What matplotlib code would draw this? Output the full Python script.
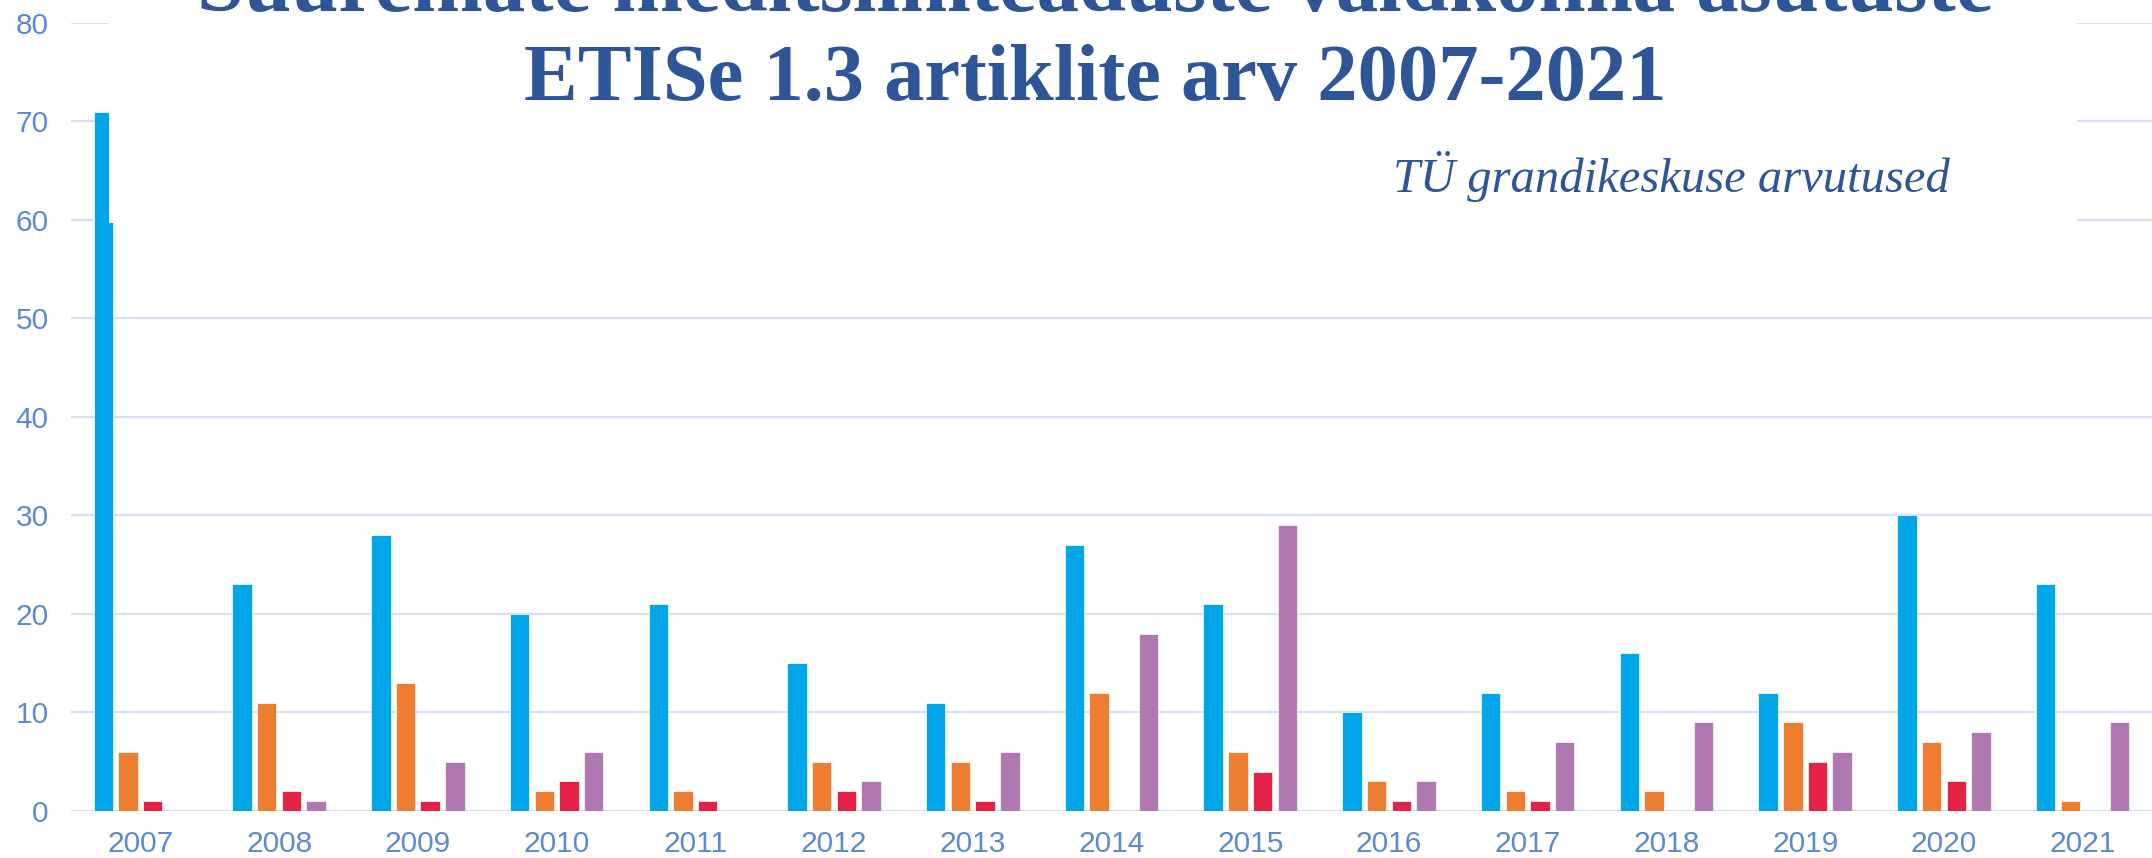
import matplotlib
matplotlib.use("Agg")
import matplotlib.pyplot as plt
from matplotlib.patches import Rectangle
import numpy as np

# data
years = ["2007", "2008", "2009", "2010", "2011", "2012", "2013", "2014",
         "2015", "2016", "2017", "2018", "2019", "2020", "2021"]
series_blue = [71, 23, 28, 20, 21, 15, 11, 27, 21, 10, 12, 16, 12, 30, 23]
series_orange = [6, 11, 13, 2, 2, 5, 5, 12, 6, 3, 2, 2, 9, 7, 1]
series_red = [1, 2, 1, 3, 1, 2, 1, 0, 4, 1, 1, 0, 5, 3, 0]
series_purple = [0, 1, 5, 6, 0, 3, 6, 18, 29, 3, 7, 9, 6, 8, 9]
y_ticks = [0, 10, 20, 30, 40, 50, 60, 70, 80]

title_line1 = "Suuremate meditsiiniteaduste valdkonna asutuste"
title_line2 = "ETISe 1.3 artiklite arv 2007-2021"
subtitle = "TÜ grandikeskuse arvutused"

colors = ["#00A6E8", "#ED7D31", "#E42245", "#AF78B0"]
title_color = "#2E5597"
tick_color = "#5C89CF"
grid_color = "#D6E0F2"

fig = plt.figure(figsize=(21.52, 8.58), dpi=100)
ax = fig.add_axes([0.033, 0.0548, 0.967, 0.9184])

x = np.arange(len(years))
offsets = [-0.267, -0.089, 0.089, 0.267]
width = 0.14
for vals, off, col in zip([series_blue, series_orange, series_red, series_purple],
                          offsets, colors):
    ax.bar(x + off, vals, width=width, color=col, edgecolor="white",
           linewidth=0.5, zorder=2)

ax.set_xlim(-0.5, len(years) - 0.5)
ax.set_ylim(0, 80)
ax.set_yticks(y_ticks)
ax.set_xticks(x)
ax.set_xticklabels(years)
ax.yaxis.grid(True, color=grid_color, linewidth=1.6)
ax.set_axisbelow(True)
for s in ax.spines.values():
    s.set_visible(False)
ax.tick_params(axis="both", length=0, labelsize=21.5, labelcolor=tick_color)
ax.tick_params(axis="y", pad=16)
ax.tick_params(axis="x", pad=14)
for lab in ax.get_xticklabels() + ax.get_yticklabels():
    lab.set_family("Liberation Sans")

# white title box that sits over the top of the plot
fig.add_artist(Rectangle((0.0507, 0.7401), 0.9145, 0.27, transform=fig.transFigure,
                         facecolor="white", edgecolor="none", zorder=1))

fig.text(0.509, 0.987, title_line1, ha="center", va="baseline", fontsize=61,
         fontweight="bold", family="Liberation Serif", color=title_color, zorder=3)
fig.text(0.509, 0.8834, title_line2, ha="center", va="baseline", fontsize=58,
         fontweight="bold", family="Liberation Serif", color=title_color, zorder=3)
fig.text(0.6473, 0.7762, subtitle, ha="left", va="baseline", fontsize=35,
         style="italic", family="Liberation Serif", color=title_color, zorder=3)

fig.savefig("out.png", dpi=100)
